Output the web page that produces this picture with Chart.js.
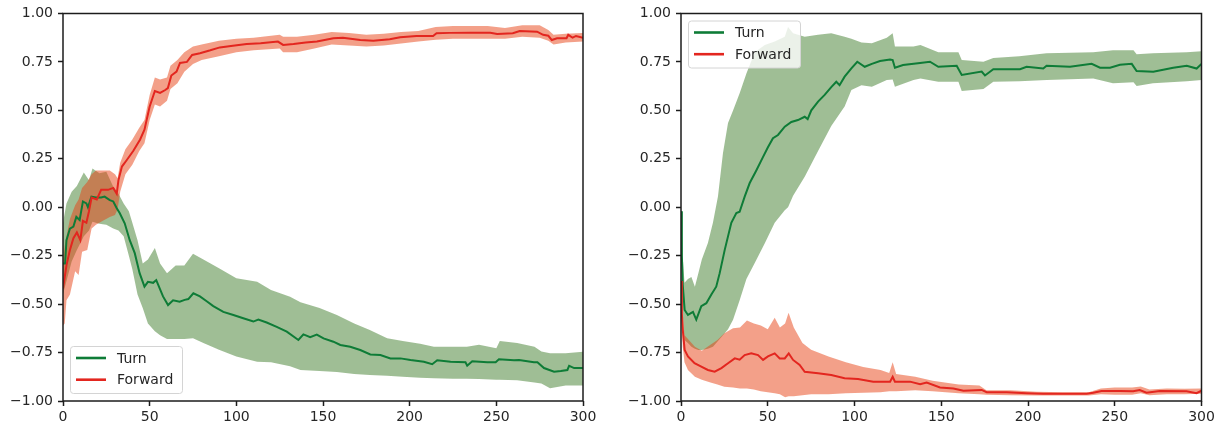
<!DOCTYPE html>
<html>
<head>
<meta charset="utf-8">
<script src="https://cdn.jsdelivr.net/npm/chart.js@4.4.1/dist/chart.umd.min.js"></script>
<style>
  html, body { margin: 0; padding: 0; background: #fff; }
  body { width: 1223px; height: 427px; position: relative; overflow: hidden; }
  .panel { position: absolute; top: 0; width: 600px; height: 427px; }
</style>
</head>
<body>
<div class="panel" style="left:0"><canvas id="chart1"></canvas></div>
<div class="panel" style="left:618px"><canvas id="chart2"></canvas></div>
<script>
const names = ['Turn', 'Forward'];
const xTicks = [0, 50, 100, 150, 200, 250, 300];
const yTicks = [-1, -0.75, -0.5, -0.25, 0, 0.25, 0.5, 0.75, 1];

// left panel, Turn
const ltX = [0, 1.2, 2, 4, 6, 7.7, 9.6, 11.5, 13.5, 14.4,
  16.4, 19, 22, 24, 27, 29, 31, 32.7, 35.6, 38.5,
  41.4, 44.2, 47, 49, 52, 53.8, 57.7, 60.6, 63.5, 67.3,
  70.2, 72.3, 75.2, 79, 82.9, 86.7, 92.5, 98.3, 104, 109.8,
  112.7, 117.5, 123.3, 129.1, 135.8, 138.7, 142.6, 146.4, 150.3, 156,
  160, 165.7, 171.5, 177.3, 183.1, 188.9, 194.7, 200.5, 208.2, 213,
  215.9, 223.6, 232.2, 233.2, 236.1, 244.8, 249.6, 251.5, 260.2, 263.1,
  271.7, 273.7, 277.5, 283.3, 287.2, 291, 292, 294.9, 300];
const ltMean = [-0.29, -0.29, -0.17, -0.11, -0.10, -0.05, -0.066, 0.03, 0.02, 0.0,
  0.055, 0.05, 0.05, 0.055, 0.037, 0.03, -0.005, -0.03, -0.083, -0.17,
  -0.237, -0.34, -0.41, -0.385, -0.39, -0.376, -0.46, -0.505, -0.48, -0.488,
  -0.478, -0.474, -0.444, -0.46, -0.485, -0.51, -0.54, -0.556, -0.573, -0.59,
  -0.58, -0.595, -0.617, -0.642, -0.685, -0.656, -0.67, -0.657, -0.677, -0.694,
  -0.711, -0.72, -0.737, -0.76, -0.763, -0.78, -0.78, -0.788, -0.797, -0.81,
  -0.79, -0.797, -0.80, -0.818, -0.795, -0.80, -0.80, -0.785, -0.79, -0.788,
  -0.80, -0.80, -0.83, -0.849, -0.845, -0.84, -0.818, -0.83, -0.83];
const ltBandX = [0, 2, 5, 8, 12, 15, 17, 21, 25, 29,
  32, 35, 38, 40, 43, 46, 49, 53, 56, 60,
  65, 70, 75, 81, 90, 100, 112, 120, 131, 137,
  148, 158, 168, 177, 187, 196, 206, 214, 225, 233,
  240, 250, 252, 262, 272, 276, 281, 290, 300];
const ltHi = [-0.08, 0.02, 0.08, 0.11, 0.18, 0.14, 0.20, 0.175, 0.183, 0.106,
  0.07, 0.02, -0.02, -0.08, -0.17, -0.29, -0.27, -0.21, -0.29, -0.34,
  -0.30, -0.30, -0.24, -0.27, -0.315, -0.367, -0.385, -0.427, -0.462, -0.49,
  -0.52, -0.556, -0.60, -0.633, -0.676, -0.69, -0.705, -0.72, -0.72, -0.72,
  -0.71, -0.728, -0.69, -0.70, -0.72, -0.745, -0.754, -0.754, -0.746];
const ltLo = [-0.45, -0.38, -0.28, -0.22, -0.15, -0.12, -0.075, -0.085, -0.09, -0.11,
  -0.12, -0.15, -0.25, -0.32, -0.45, -0.52, -0.60, -0.64, -0.66, -0.68,
  -0.68, -0.68, -0.676, -0.70, -0.735, -0.77, -0.797, -0.80, -0.82, -0.84,
  -0.845, -0.85, -0.86, -0.866, -0.87, -0.875, -0.88, -0.883, -0.885, -0.885,
  -0.887, -0.89, -0.89, -0.893, -0.905, -0.91, -0.934, -0.92, -0.92];

// left panel, Forward
const lfX = [0, 1, 2, 4, 6, 8, 10, 11.5, 13.5, 15,
  16.5, 19.5, 22, 26, 29, 31, 32, 34, 36.5, 40.5,
  44.5, 47, 50, 53, 56, 59, 60.5, 62.5, 65.5, 67.5,
  71.5, 74.5, 79, 85, 90.5, 98, 106, 114, 124, 127,
  133, 140, 146.5, 156, 161.5, 171.5, 179, 188.5, 194.5, 204,
  213.5, 215.5, 223, 235, 246.5, 250.5, 259.5, 263.5, 273.5, 277,
  280, 282, 285, 290.5, 291.5, 294, 296, 300];
const lfMean = [-0.42, -0.36, -0.30, -0.22, -0.16, -0.13, -0.17, -0.07, -0.08, -0.02,
  0.05, 0.04, 0.09, 0.09, 0.10, 0.07, 0.14, 0.21, 0.24, 0.29,
  0.35, 0.40, 0.52, 0.60, 0.59, 0.605, 0.615, 0.68, 0.70, 0.745,
  0.75, 0.786, 0.795, 0.81, 0.825, 0.834, 0.842, 0.846, 0.855, 0.838,
  0.842, 0.85, 0.855, 0.872, 0.875, 0.863, 0.86, 0.867, 0.877, 0.884,
  0.884, 0.898, 0.90, 0.901, 0.901, 0.894, 0.898, 0.91, 0.906, 0.89,
  0.885, 0.863, 0.872, 0.872, 0.89, 0.875, 0.884, 0.875];
const lfBandX = [0, 1, 2, 4, 7, 9, 11, 14, 16.5, 19,
  23, 27, 30, 31.5, 33, 36, 40, 44, 47, 50,
  53, 56, 60, 62, 66, 70, 75, 80, 90, 100,
  110, 125, 127, 135, 145, 155, 165, 175, 185, 195,
  205, 215, 225, 235, 245, 255, 265, 275, 280, 283,
  290, 300];
const lfLo = [-0.61, -0.6, -0.48, -0.45, -0.33, -0.35, -0.23, -0.22, -0.11, -0.09,
  -0.07, -0.05, -0.04, -0.01, 0.08, 0.17, 0.22, 0.29, 0.33, 0.45,
  0.53, 0.52, 0.55, 0.61, 0.64, 0.70, 0.74, 0.76, 0.78, 0.80,
  0.81, 0.82, 0.80, 0.80, 0.82, 0.84, 0.835, 0.83, 0.835, 0.845,
  0.855, 0.865, 0.87, 0.87, 0.87, 0.87, 0.88, 0.875, 0.86, 0.84,
  0.85, 0.855];
const lfHi = [-0.28, -0.2, -0.15, -0.06, 0.01, 0.04, 0.10, 0.13, 0.17, 0.19,
  0.19, 0.19, 0.17, 0.15, 0.23, 0.30, 0.35, 0.41, 0.45, 0.58,
  0.67, 0.66, 0.67, 0.73, 0.76, 0.80, 0.83, 0.84, 0.86, 0.87,
  0.875, 0.89, 0.88, 0.88, 0.89, 0.905, 0.90, 0.89, 0.895, 0.905,
  0.91, 0.93, 0.935, 0.935, 0.935, 0.925, 0.94, 0.94, 0.915, 0.89,
  0.895, 0.90];

// right panel, Turn
const rtX = [0, 0.5, 1, 2.1, 4, 6.9, 8.8, 11.7, 14.6, 17.5,
  20.3, 22.3, 25.2, 29, 31.9, 33.8, 36.7, 39.6, 43.4, 47.3,
  50.1, 53, 55.9, 59.8, 63.6, 67.4, 71.3, 73, 75.1, 79,
  82.8, 86.6, 89.5, 91.4, 94.3, 98.2, 101.6, 105.9, 110, 114.7,
  120.5, 122, 123.3, 128, 137.8, 143.5, 148.3, 158.9, 161.8, 173.3,
  175.2, 180, 195.4, 199.2, 208.8, 210.7, 224.2, 236.7, 241.5, 247.3,
  253, 259.8, 262.6, 272.2, 283.7, 291.5, 297.2, 300];
const rtMean = [-0.02, -0.25, -0.40, -0.53, -0.556, -0.54, -0.58, -0.51, -0.495, -0.45,
  -0.41, -0.34, -0.22, -0.08, -0.03, -0.023, 0.055, 0.125, 0.19, 0.26,
  0.31, 0.356, 0.373, 0.416, 0.44, 0.45, 0.467, 0.455, 0.50, 0.545,
  0.58, 0.62, 0.648, 0.63, 0.674, 0.717, 0.751, 0.725, 0.74, 0.755,
  0.763, 0.76, 0.72, 0.734, 0.745, 0.751, 0.725, 0.73, 0.683, 0.70,
  0.68, 0.712, 0.712, 0.725, 0.716, 0.73, 0.725, 0.74, 0.72, 0.72,
  0.735, 0.74, 0.703, 0.70, 0.72, 0.73, 0.716, 0.74];
const rtBandX = [0, 1, 2, 4, 6, 8, 10, 12, 15.5, 18.4,
  21.3, 24.2, 27.1, 30, 33.8, 37.7, 42.5, 48.3, 54, 59.8,
  61.7, 64.6, 71.3, 79, 86.6, 94.3, 98.2, 104, 110, 118.6,
  122, 123.3, 134, 138, 148.3, 159.9, 161.8, 174.3, 180, 195,
  210.7, 237.6, 249, 260.8, 262.6, 272, 291.5, 300];
const rtHi = [0, -0.25, -0.39, -0.37, -0.36, -0.41, -0.34, -0.27, -0.185, -0.08,
  0.055, 0.28, 0.435, 0.50, 0.588, 0.69, 0.80, 0.838, 0.855, 0.88,
  0.93, 0.898, 0.88, 0.89, 0.898, 0.88, 0.87, 0.85, 0.846, 0.875,
  0.898, 0.83, 0.83, 0.838, 0.80, 0.80, 0.76, 0.751, 0.77, 0.78,
  0.795, 0.80, 0.81, 0.81, 0.79, 0.795, 0.80, 0.805];
const rtLo = [-0.05, -0.55, -0.685, -0.70, -0.72, -0.73, -0.737, -0.737, -0.73, -0.72,
  -0.69, -0.66, -0.63, -0.58, -0.48, -0.37, -0.288, -0.186, -0.08, -0.015,
  0.0, 0.06, 0.158, 0.29, 0.42, 0.52, 0.605, 0.63, 0.622, 0.657,
  0.66, 0.622, 0.657, 0.665, 0.648, 0.648, 0.60, 0.61, 0.648, 0.65,
  0.657, 0.665, 0.64, 0.645, 0.626, 0.64, 0.65, 0.657];

// right panel, Forward
const rfX = [0, 0.5, 1, 2.1, 4, 7.8, 11.7, 15.5, 19.4, 23.3,
  27.1, 31, 33.8, 36.7, 40.5, 44.4, 47.3, 50.1, 54, 56.9,
  59.8, 62.1, 64.6, 68.4, 71.3, 79, 86.6, 94.3, 102, 110.8,
  120.5, 122, 123.3, 132, 137.8, 141.6, 149.3, 157, 162.8, 173.3,
  176.2, 187.7, 199.2, 208.8, 233.8, 237.6, 242.4, 252.9, 260.6, 264.4,
  268.3, 276, 291.4, 297.1, 300];
const rfMean = [-0.38, -0.55, -0.63, -0.737, -0.77, -0.805, -0.823, -0.84, -0.849, -0.83,
  -0.805, -0.78, -0.787, -0.763, -0.754, -0.763, -0.788, -0.77, -0.754, -0.78,
  -0.78, -0.754, -0.788, -0.814, -0.849, -0.857, -0.866, -0.883, -0.886, -0.90,
  -0.90, -0.875, -0.90, -0.90, -0.914, -0.905, -0.93, -0.935, -0.947, -0.943,
  -0.955, -0.955, -0.96, -0.963, -0.963, -0.957, -0.948, -0.948, -0.95, -0.943,
  -0.957, -0.948, -0.95, -0.96, -0.947];
const rfBandX = [0, 1, 2, 4, 8, 12, 17, 21, 25, 30,
  34, 38, 42, 46, 50, 54, 57, 60, 62, 65,
  70, 75, 85, 95, 105, 115, 120, 122, 124,
  135, 145, 160, 172, 176, 190, 205, 220, 235, 242,
  250, 260, 265, 270, 280, 290, 300];
const rfHi = [-0.30, -0.55, -0.66, -0.68, -0.72, -0.74, -0.71, -0.685, -0.65, -0.625,
  -0.62, -0.585, -0.60, -0.61, -0.63, -0.57, -0.62, -0.60, -0.545, -0.62,
  -0.70, -0.735, -0.77, -0.80, -0.825, -0.84, -0.855, -0.80, -0.86,
  -0.875, -0.895, -0.915, -0.92, -0.945, -0.945, -0.952, -0.955, -0.955, -0.935,
  -0.93, -0.93, -0.925, -0.94, -0.935, -0.937, -0.935];
const rfLo = [-0.45, -0.72, -0.80, -0.84, -0.875, -0.89, -0.905, -0.915, -0.926, -0.93,
  -0.935, -0.935, -0.94, -0.95, -0.955, -0.96, -0.965, -0.98, -0.975, -0.975,
  -0.97, -0.965, -0.965, -0.96, -0.958, -0.955, -0.95, -0.95, -0.95,
  -0.945, -0.95, -0.96, -0.965, -0.968, -0.97, -0.972, -0.972, -0.972, -0.965,
  -0.968, -0.968, -0.96, -0.97, -0.965, -0.965, -0.962];

const lineColors = ['#0e7c37', '#e3261f'];
const bandColors = ['rgba(64,125,44,0.5)', 'rgba(232,66,20,0.5)'];

function pts(xs, ys) {
  return xs.map((x, i) => ({ x: x, y: ys[i] }));
}

// a band is two datasets: upper filled down to the lower one
function band(xs, lo, hi, k, order) {
  return [
    { data: pts(xs, hi), fill: '+1', backgroundColor: bandColors[k], borderWidth: 0, pointRadius: 0, order: order },
    { data: pts(xs, lo), fill: false, borderWidth: 0, pointRadius: 0, order: order }
  ];
}

function line(xs, ys, k, order) {
  return { label: names[k], data: pts(xs, ys), borderColor: lineColors[k], borderWidth: 2,
    pointRadius: 0, fill: false, tension: 0, order: order };
}

const frame = {
  id: 'frame',
  afterDatasetsDraw(chart) {
    const ctx = chart.ctx, a = chart.chartArea;
    ctx.save();
    ctx.strokeStyle = '#1c1c1c';
    ctx.lineWidth = 1.5;
    ctx.strokeRect(a.left, a.top, a.right - a.left, a.bottom - a.top);
    ctx.restore();
  }
};

const legendBox = {
  id: 'legendBox',
  afterDraw(chart, args, opts) {
    const ctx = chart.ctx, a = chart.chartArea;
    const w = 112, h = 47;
    const left = a.left + 7;
    const top = opts.where === 'upper' ? a.top + 7 : a.bottom - 8 - h;
    ctx.save();
    ctx.beginPath();
    ctx.roundRect(left + 0.5, top + 0.5, w, h, 3);
    ctx.fillStyle = 'rgba(255,255,255,0.8)';
    ctx.fill();
    ctx.strokeStyle = '#d4d4d4';
    ctx.lineWidth = 1;
    ctx.stroke();
    ctx.font = '14px "DejaVu Sans"';
    ctx.textBaseline = 'middle';
    names.forEach((n, i) => {
      const y = top + 12 + i * 21.7;
      ctx.strokeStyle = lineColors[i];
      ctx.lineWidth = 2.6;
      ctx.beginPath();
      ctx.moveTo(left + 6, y);
      ctx.lineTo(left + 36, y);
      ctx.stroke();
      ctx.fillStyle = '#262626';
      ctx.fillText(n, left + 47, y + 1);
    });
    ctx.restore();
  }
};

function makeOptions(where, padRight) {
  return {
    responsive: true,
    maintainAspectRatio: false,
    animation: false,
    layout: { padding: { top: 13.5, right: padRight, left: 0, bottom: 0 } },
    plugins: { legend: { display: false }, tooltip: { enabled: false }, legendBox: { where: where } },
    scales: {
      x: {
        type: 'linear', min: 0, max: 300,
        afterBuildTicks: s => { s.ticks = xTicks.map(v => ({ value: v })); },
        afterFit: s => { s.height = 26; },
        grid: { drawOnChartArea: false, drawTicks: true, tickLength: 5, tickColor: '#1c1c1c', tickWidth: 1.5 },
        border: { display: false },
        ticks: { color: '#262626', font: { family: 'DejaVu Sans', size: 14 }, padding: 3, maxRotation: 0, autoSkip: false }
      },
      y: {
        min: -1, max: 1,
        afterBuildTicks: s => { s.ticks = yTicks.map(v => ({ value: v })); },
        afterFit: s => { s.width = 63; },
        grid: { drawOnChartArea: false, drawTicks: true, tickLength: 5, tickColor: '#1c1c1c', tickWidth: 1.5 },
        border: { display: false },
        ticks: {
          color: '#262626', font: { family: 'DejaVu Sans', size: 14 }, padding: 5, autoSkip: false,
          callback: v => (v < 0 ? '\u2212' : '') + Math.abs(v).toFixed(2)
        }
      }
    }
  };
}

new Chart(document.getElementById('chart1'), {
  type: 'line',
  data: {
    datasets: [
      line(lfX, lfMean, 1, 0),
      line(ltX, ltMean, 0, 1),
      ...band(lfBandX, lfLo, lfHi, 1, 2),
      ...band(ltBandX, ltLo, ltHi, 0, 3)
    ]
  },
  options: makeOptions('lower', 17),
  plugins: [frame, legendBox]
});

new Chart(document.getElementById('chart2'), {
  type: 'line',
  data: {
    datasets: [
      line(rfX, rfMean, 1, 0),
      line(rtX, rtMean, 0, 1),
      ...band(rfBandX, rfLo, rfHi, 1, 2),
      ...band(rtBandX, rtLo, rtHi, 0, 3)
    ]
  },
  options: makeOptions('upper', 16.5),
  plugins: [frame, legendBox]
});
</script>
</body>
</html>
